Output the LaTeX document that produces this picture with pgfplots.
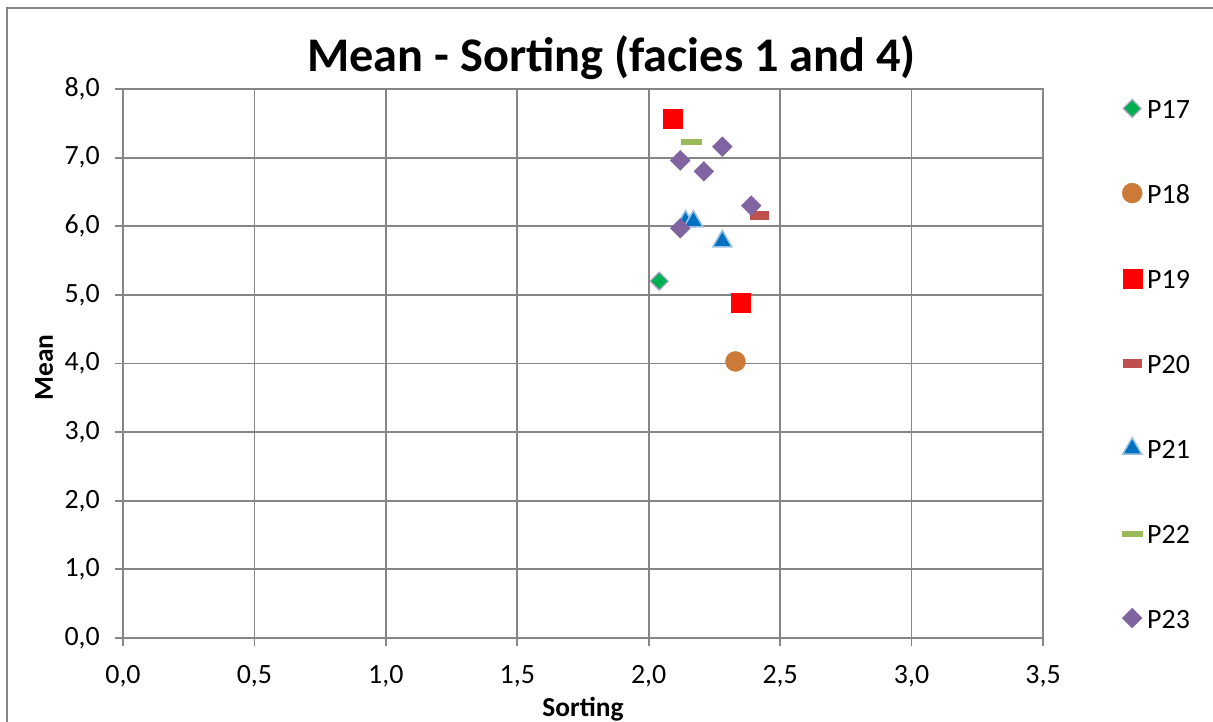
\documentclass[border=0pt]{standalone}
\usepackage{fontspec}
\setmainfont{Carlito}
\usepackage{pgfplots}
\pgfplotsset{compat=1.18}
\definecolor{gridc}{RGB}{134,134,134}
\definecolor{pA}{RGB}{0,176,80}
\definecolor{pAb}{RGB}{181,167,204}
\definecolor{pB}{RGB}{204,122,55}
\definecolor{pC}{RGB}{255,0,0}
\definecolor{pD}{RGB}{192,80,77}
\definecolor{pE}{RGB}{0,112,192}
\definecolor{pEb}{RGB}{155,194,230}
\definecolor{pF}{RGB}{155,187,89}
\definecolor{pG}{RGB}{128,100,162}
\begin{document}
\begin{tikzpicture}
\begin{axis}[
  at={(0,0)}, anchor=south west,
  scale only axis, width=920bp, height=549bp,
  xmin=0, xmax=3.5, ymin=0, ymax=8,
  xtick={0,0.5,1,1.5,2,2.5,3,3.5},
  ytick={0,1,2,3,4,5,6,7,8},
  grid=major,
  major grid style={color=gridc, line width=1.8bp},
  axis line style={gridc, line width=1.8bp},
  tick style={gridc, line width=1.8bp},
  major tick length=8bp,
  tick align=outside,
  xtick pos=bottom, ytick pos=left,
  /pgf/number format/assume math mode=true,
  xticklabel style={/pgf/number format/.cd, fixed, fixed zerofill, precision=1, use comma, /tikz/.cd, font=\fontsize{28}{32}\selectfont, inner sep=0, yshift=-19bp},
  yticklabel style={/pgf/number format/.cd, fixed, fixed zerofill, precision=1, use comma, /tikz/.cd, font=\fontsize{28}{32}\selectfont, inner sep=0, xshift=-15bp},
  title={Mean - Sorting (facies 1 and 4)},
  title style={at={(axis description cs:0.531,1.0219)}, anchor=base, font=\fontsize{48.5}{50}\selectfont\bfseries, inner sep=0},
  xlabel={Sorting},
  xlabel style={at={(axis description cs:0.5,-0.143)}, anchor=base, font=\fontsize{27.5}{30}\selectfont\bfseries, inner sep=0},
  ylabel={Mean},
  ylabel style={at={(axis description cs:-0.0761,0.4927)}, anchor=base, rotate=0, font=\fontsize{27.5}{30}\selectfont\bfseries, inner sep=0},
  legend style={at={(axis description cs:1.0848,0.4988)}, anchor=west, draw=none, fill=none, inner sep=0, row sep=62.9bp, font=\fontsize{28}{32}\selectfont, nodes={inner sep=0}},
  legend cell align=left,
  legend image code/.code={\path[draw=none,fill=none] (0bp,-8bp) (26bp,12bp); \draw[#1,mark repeat=2,mark phase=2] plot coordinates {(0bp,2bp)(11bp,2bp)(24bp,2bp)};},
]
\addplot[only marks, mark=square*, mark size=6.4bp, mark options={rotate=45, fill=pA, draw=pAb, line width=1.2bp}] coordinates {(2.04,5.20)};
\addlegendentry{P17}
\addplot[only marks, mark=*, mark size=10bp, mark options={fill=pB, draw=pB}] coordinates {(2.33,4.03)};
\addlegendentry{P18}
\addplot[only marks, mark=square*, mark size=9.5bp, mark options={fill=pC, draw=pC}] coordinates {(2.09,7.56) (2.35,4.89)};
\addlegendentry{P19}
\addplot[only marks, mark=square*, mark size=4bp, mark options={xscale=2.25, fill=pD, draw=pD}] coordinates {(2.42,6.16)};
\addlegendentry{P20}
\addplot[only marks, mark=triangle*, mark size=11bp, mark options={fill=pE, draw=pEb, line width=1.5bp}] coordinates {(2.14,6.07) (2.17,6.07) (2.28,5.78)};
\addlegendentry{P21}
\addplot[only marks, mark=square*, mark size=2.5bp, mark options={xscale=4, fill=pF, draw=pF}] coordinates {(2.16,7.23)};
\addlegendentry{P22}
\addplot[only marks, mark=square*, mark size=7bp, mark options={rotate=45, fill=pG, draw=pG}] coordinates {(2.28,7.16) (2.12,6.96) (2.21,6.80) (2.39,6.30) (2.12,5.97)};
\addlegendentry{P23}
\end{axis}
\draw[gridc, line width=1.8bp] (1200bp,630bp) -- (-116bp,630bp) -- (-116bp,-200bp);
\pgfresetboundingbox
\useasboundingbox (-123bp,-84bp) rectangle (1090bp,638bp);
\end{tikzpicture}
\end{document}
